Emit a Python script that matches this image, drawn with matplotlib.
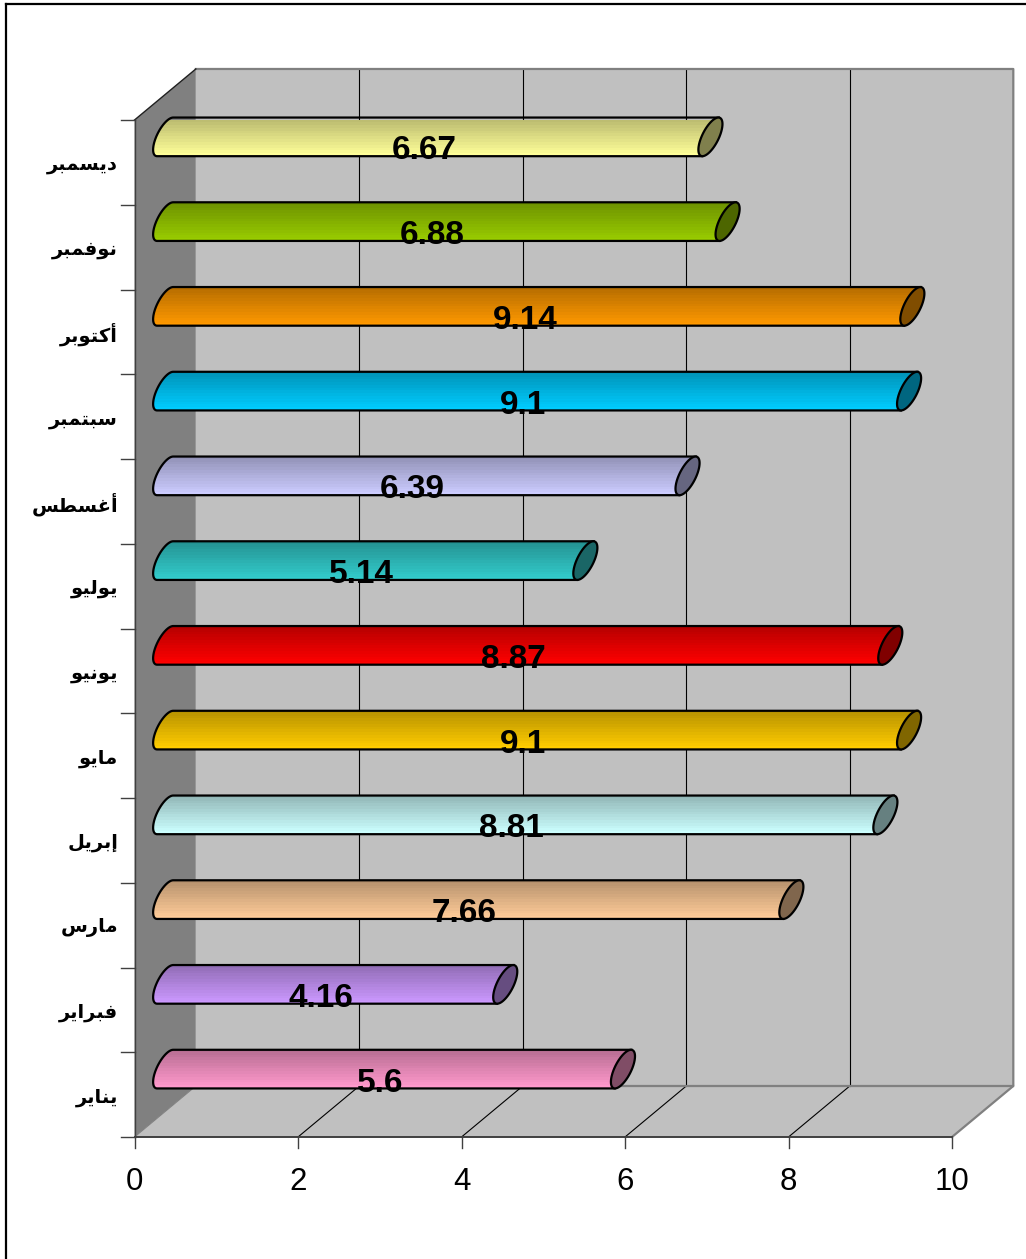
import matplotlib
matplotlib.use('Agg')
import matplotlib.pyplot as plt
from matplotlib.colors import to_rgb
from matplotlib.lines import Line2D
from matplotlib.patches import Polygon
import numpy as np

# Monthly values, January first (drawn bottom to top)
meses = ['يناير', 'فبراير', 'مارس', 'إبريل', 'مايو', 'يونيو',
         'يوليو', 'أغسطس', 'سبتمبر', 'أكتوبر', 'نوفمبر', 'ديسمبر']
valores = [5.6, 4.16, 7.66, 8.81, 9.1, 8.87, 5.14, 6.39, 9.1, 9.14, 6.88, 6.67]
cores = ['#FF99CC', '#CC99FF', '#FFCC99', '#CCFFFF', '#FFCC00', '#FF0000',
         '#33CCCC', '#CCCCFF', '#00CCFF', '#FF9900', '#99CC00', '#FFFF99']
xticks = [0, 2, 4, 6, 8, 10]

# Contextual forms: isolated, final, initial, medial
FORMAS = {
    'ا': 'ﺍﺎ', 'أ': 'ﺃﺄ', 'إ': 'ﺇﺈ', 'د': 'ﺩﺪ', 'ر': 'ﺭﺮ', 'و': 'ﻭﻮ',
    'ب': 'ﺏﺐﺑﺒ', 'ت': 'ﺕﺖﺗﺘ', 'س': 'ﺱﺲﺳﺴ', 'ط': 'ﻁﻂﻃﻄ', 'غ': 'ﻍﻎﻏﻐ',
    'ف': 'ﻑﻒﻓﻔ', 'ك': 'ﻙﻚﻛﻜ', 'ل': 'ﻝﻞﻟﻠ', 'م': 'ﻡﻢﻣﻤ', 'ن': 'ﻥﻦﻧﻨ', 'ي': 'ﻱﻲﻳﻴ',
}


def moldar(palavra):
    # matplotlib has no Arabic shaping, so pick the joined glyphs and reverse
    saida = []
    liga_antes = False
    for i, letra in enumerate(palavra):
        formas = FORMAS[letra]
        liga_depois = len(formas) == 4 and i < len(palavra) - 1
        if liga_antes:
            saida.append(formas[3] if liga_depois else formas[1])
        else:
            saida.append(formas[2] if liga_depois else formas[0])
        liga_antes = liga_depois
    return ''.join(reversed(saida))


fig = plt.figure(figsize=(10.26, 12.59), dpi=100, facecolor='white')
L, H = 1026, 1259

# Outer chart border, left and top only reach the image
fig.add_artist(Line2D([6 / L, 6 / L], [0, 1 - 4 / H], color='black', lw=1.6))
fig.add_artist(Line2D([6 / L, 1], [1 - 4 / H, 1 - 4 / H], color='black', lw=1.6))

# Axes box is the front plane of the 3D chart
ax = fig.add_axes([134.5 / L, 1 - 1137 / H, 817.5 / L, 1017 / H])
ax.set_xlim(0, 10)
ax.set_ylim(0, 12)
ax.axis('off')

# Depth of the box and cylinder size, in data units
dx = 0.75
dy = 0.602
raio_y = 0.228
topo_x = 0.098
lado_x = 0.110

# Walls and floor
ax.add_patch(Polygon([(0, 0), (dx, dy), (dx, 12 + dy), (0, 12)], fc='#808080', ec='none', clip_on=False, zorder=1))
ax.add_patch(Polygon([(dx, dy), (10 + dx, dy), (10 + dx, 12 + dy), (dx, 12 + dy)], fc='#C0C0C0', ec='none', clip_on=False, zorder=1))
ax.add_patch(Polygon([(0, 0), (10, 0), (10 + dx, dy), (dx, dy)], fc='#C0C0C0', ec='none', clip_on=False, zorder=1))

# Grid lines on the back wall and the floor
for t in xticks[1:-1]:
    ax.plot([t + dx, t + dx], [dy, 12 + dy], color='black', lw=0.8, clip_on=False, zorder=2)
    ax.plot([t, t + dx], [0, dy], color='black', lw=0.8, clip_on=False, zorder=2)

# Box edges
cinza = '#808080'
ax.plot([dx, 10 + dx, 10 + dx, 10], [12 + dy, 12 + dy, dy, 0], color=cinza, lw=1.6, clip_on=False, zorder=2)
ax.plot([dx, 10 + dx], [dy, dy], color=cinza, lw=1.6, clip_on=False, zorder=2)
ax.plot([0, dx], [12, 12 + dy], color='#202020', lw=1.0, clip_on=False, zorder=2)
ax.plot([0, dx], [0, dy], color=cinza, lw=0.8, clip_on=False, zorder=2)

# Axis lines and ticks
escuro = '#404040'
ax.plot([0, 0], [0, 12], color=escuro, lw=1.0, clip_on=False, zorder=3)
ax.plot([0, 10], [0, 0], color=escuro, lw=1.4, clip_on=False, zorder=3)
for i in range(13):
    ax.plot([-0.16, 0], [i, i], color=escuro, lw=1.0, clip_on=False, zorder=3)
for t in xticks:
    ax.plot([t, t], [-0.135, 0], color=escuro, lw=1.0, clip_on=False, zorder=3)
    ax.text(t, -0.53, str(t), ha='center', va='center', fontsize=22.5,
            family='Liberation Sans', color='black', clip_on=False)

ang = np.linspace(0, 2 * np.pi, 80)


# Cylinder: shaded body with rounded left end plus a darker end cap
def cilindro(valor, y, cor, z):
    x0 = dx / 2
    x1 = valor + dx / 2
    # left half of the start disc, walking from the top edge to the bottom edge
    t_esq = np.linspace(0, np.pi, 40)
    esq_x = x0 + topo_x * np.cos(t_esq) - lado_x * np.sin(t_esq)
    esq_y = y + raio_y * np.cos(t_esq)
    corpo = list(zip(esq_x, esq_y))
    corpo += [(x1 - topo_x, y - raio_y), (x1 + topo_x, y + raio_y)]
    poligono = Polygon(corpo, closed=True, fc='none', ec='black', lw=1.6, clip_on=False, zorder=z + 1)
    ax.add_patch(poligono)

    # banded vertical shading, dark at the top and full colour at the bottom
    rgb = np.array(to_rgb(cor))
    niveis = np.linspace(0.72, 1.0, 14).reshape(-1, 1, 1)
    img = niveis * rgb.reshape(1, 1, 3)
    im = ax.imshow(img, extent=[x0 - 0.2, x1 + 0.2, y - raio_y, y + raio_y], origin='upper',
                   aspect='auto', interpolation='nearest', clip_on=True, zorder=z)
    im.set_clip_path(poligono)

    tampa_x = x1 + topo_x * np.cos(ang) + lado_x * np.sin(ang)
    tampa_y = y + raio_y * np.cos(ang)
    ax.add_patch(Polygon(list(zip(tampa_x, tampa_y)), closed=True, fc=rgb * 0.5, ec='black',
                         lw=1.6, clip_on=False, zorder=z + 2))


for i, (mes, valor, cor) in enumerate(zip(meses, valores, cores)):
    yc = i + 0.5 + dy / 2
    cilindro(valor, yc, cor, 4)
    ax.text(valor / 2 + 0.205, i + 0.5 + 0.135, str(valor), ha='center', va='center', fontsize=24,
            fontweight='bold', family='Liberation Sans', color='black', zorder=8, clip_on=False)
    ax.text(-0.2, i + 0.5 - 0.03, moldar(mes), ha='right', va='center', fontsize=14,
            fontweight='bold', family='DejaVu Sans', color='black', clip_on=False)

ax.set_xlim(0, 10)
ax.set_ylim(0, 12)
fig.savefig('out.png', dpi=100)
